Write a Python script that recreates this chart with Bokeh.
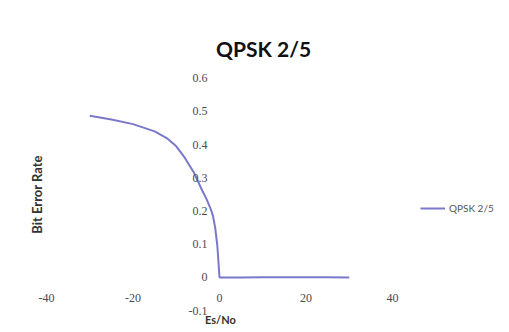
from bokeh.plotting import figure
from bokeh.models import FixedTicker, Legend, LegendItem, Label, Range1d
from bokeh.embed import file_html
from bokeh.resources import INLINE
import math

# Data
es_no = [-30, -25, -20, -15, -12, -10, -8, -6, -4, -3, -2, -1.5, -1, -0.5, 0, 5, 10, 15, 20, 25, 30]
ber = [0.487, 0.476, 0.462, 0.44, 0.418, 0.395, 0.36, 0.318, 0.262, 0.236, 0.205, 0.185, 0.15, 0.095, 0.0,
       0.0, 0.001, 0.001, 0.001, 0.0005, 0.0]
series_name = "QPSK 2/5"
title_text = "QPSK 2/5"
x_title = "Es/No"
y_title = "Bit Error Rate"
x_ticks = [-40, -20, 0, 20, 40]
x_tick_labels = ["-40", "-20", "0", "20", "40"]
y_ticks = [-0.1, 0.0, 0.1, 0.2, 0.3, 0.4, 0.5, 0.6]
y_tick_labels = ["-0.1", "0", "0.1", "0.2", "0.3", "0.4", "0.5", "0.6"]

SANS = "Lato"
SERIF = "Liberation Serif"
LINE_COLOR = "#7a78cc"
TICK_COLOR = "#4a4a4a"

# frame spans the whole canvas; ranges chosen so the plot area matches the reference
p = figure(width=509, height=332, output_backend="svg", toolbar_location=None,
           x_range=Range1d(-50.64, 67.05), y_range=Range1d(-0.1657, 0.8343),
           min_border=0)
p.outline_line_color = None
p.xgrid.visible = False
p.ygrid.visible = False
p.background_fill_color = "white"
p.border_fill_color = "white"

r = p.line(es_no, ber, line_color=LINE_COLOR, line_width=2)

# y axis crossing at x = 0
ya = p.yaxis[0]
ya.fixed_location = 0
ya.ticker = FixedTicker(ticks=y_ticks)
ya.major_label_overrides = {t: l for t, l in zip(y_ticks, y_tick_labels)}
ya.axis_line_color = None
ya.major_tick_line_color = None
ya.minor_tick_line_color = None
ya.major_tick_out = 0
ya.major_label_standoff = 12
ya.major_label_text_font = SERIF
ya.major_label_text_font_size = "12px"
ya.major_label_text_color = TICK_COLOR

xa = p.xaxis[0]
xa.fixed_location = -0.04
xa.ticker = FixedTicker(ticks=x_ticks)
xa.major_label_overrides = {t: l for t, l in zip(x_ticks, x_tick_labels)}
xa.axis_line_color = None
xa.major_tick_line_color = None
xa.minor_tick_line_color = None
xa.major_tick_out = 0
xa.major_label_standoff = 3
xa.major_label_text_font = SERIF
xa.major_label_text_font_size = "12px"
xa.major_label_text_color = TICK_COLOR

# Titles placed as labels
p.add_layout(Label(x=10.2, y=0.69, text=title_text, text_font=SANS, text_font_size="21px",
                   text_font_style="bold", text_align="center", text_baseline="middle",
                   text_color="#111111"))
p.add_layout(Label(x=0.2, y=-0.126, text=x_title, text_font=SANS, text_font_size="11px",
                   text_font_style="bold", text_align="center", text_baseline="middle",
                   text_color="#333333"))
p.add_layout(Label(x=-42.3, y=0.25, text=y_title, text_font=SANS, text_font_size="13px",
                   text_font_style="bold", text_align="center", text_baseline="middle",
                   angle=math.pi / 2, text_color="#333333"))

legend = Legend(items=[LegendItem(label=series_name, renderers=[r])],
                location=(420, 114), padding=0, margin=0, spacing=0,
                glyph_width=25, glyph_height=20, label_height=20, label_standoff=4,
                label_text_font=SANS, label_text_font_size="10px", label_text_color="#555555",
                border_line_color=None, background_fill_alpha=0)
p.add_layout(legend, "center")

open("out.html", "w").write(file_html(p, INLINE))
